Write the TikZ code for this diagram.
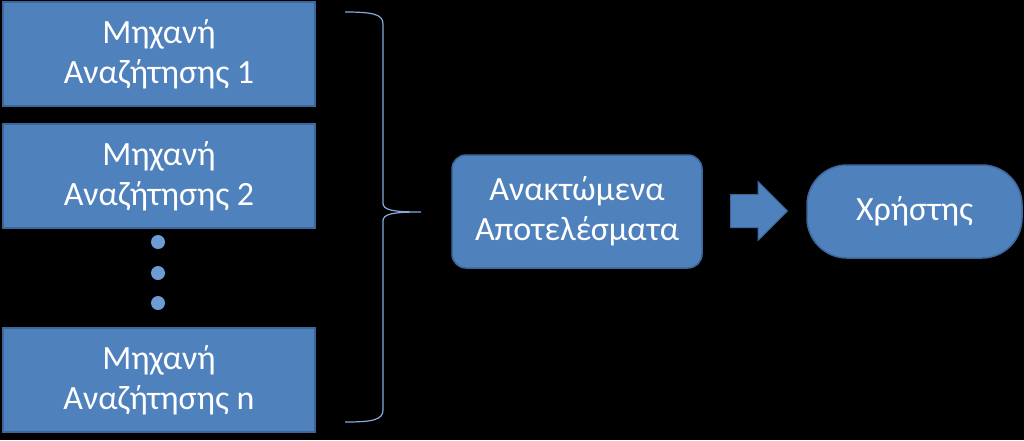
\documentclass[tikz,border=0pt]{standalone}
\usepackage{fontspec}
\setmainfont{Carlito}
\usetikzlibrary{shapes.arrows}
\definecolor{boxblue}{HTML}{4F81BD}
\definecolor{boxline}{HTML}{3B679A}
\definecolor{dotblue}{HTML}{6C9BD6}
\definecolor{braceblue}{HTML}{86ACDD}
\begin{document}
\begin{tikzpicture}[x=1pt,y=-1pt,
    every node/.style={text=white,font=\fontsize{34}{40}\selectfont},
    engine/.style={rectangle,fill=boxblue,draw=boxline,line width=1.5pt,
      minimum width=312pt,minimum height=104pt,align=center},
    vdot/.style={circle,fill=dotblue,minimum size=14pt,inner sep=0pt},
    result/.style={rectangle,rounded corners=14pt,fill=boxblue,draw=boxline,
      line width=1.5pt,minimum width=250pt,minimum height=113pt,align=center},
    blockarrow/.style={single arrow,fill=boxblue,draw=boxline,line width=1pt,
      inner sep=16pt,single arrow head extend=13pt,minimum height=57pt},
    userbox/.style={rectangle,rounded corners=40pt,fill=boxblue,draw=boxline,
      line width=1.5pt,minimum width=215pt,minimum height=93pt}]
    \fill[black] (0,0) rectangle (1024,440);
    \node[engine] (eng1) at (159,54) {Μηχανή\\Αναζήτησης 1};
    \node[engine] (eng2) at (159,176) {Μηχανή\\Αναζήτησης 2};
    \node[engine] (engn) at (159,380) {Μηχανή\\Αναζήτησης n};
    \foreach \y [count=\i] in {242,273,303}
      \node[vdot] (dot\i) at (158,\y) {};
    \coordinate (tip) at (421,212);
    \draw[braceblue,line width=1.2pt]
      (345,12) .. controls (372,12) and (383,14) .. (383,24) -- (383,203)
        .. controls (383,210) and (392,212) .. (tip)
        .. controls (392,212) and (383,214) .. (383,221) -- (383,410)
        .. controls (383,420) and (372,422) .. (345,422);
    \node[result] (res) at (577,211.5) {Ανακτώμενα\\Αποτελέσματα};
    \node[blockarrow,anchor=tail] (arr) at (730,211) {};
    \node[userbox] (user) at (914.5,211.5) {Χρήστης};
\end{tikzpicture}
\end{document}
